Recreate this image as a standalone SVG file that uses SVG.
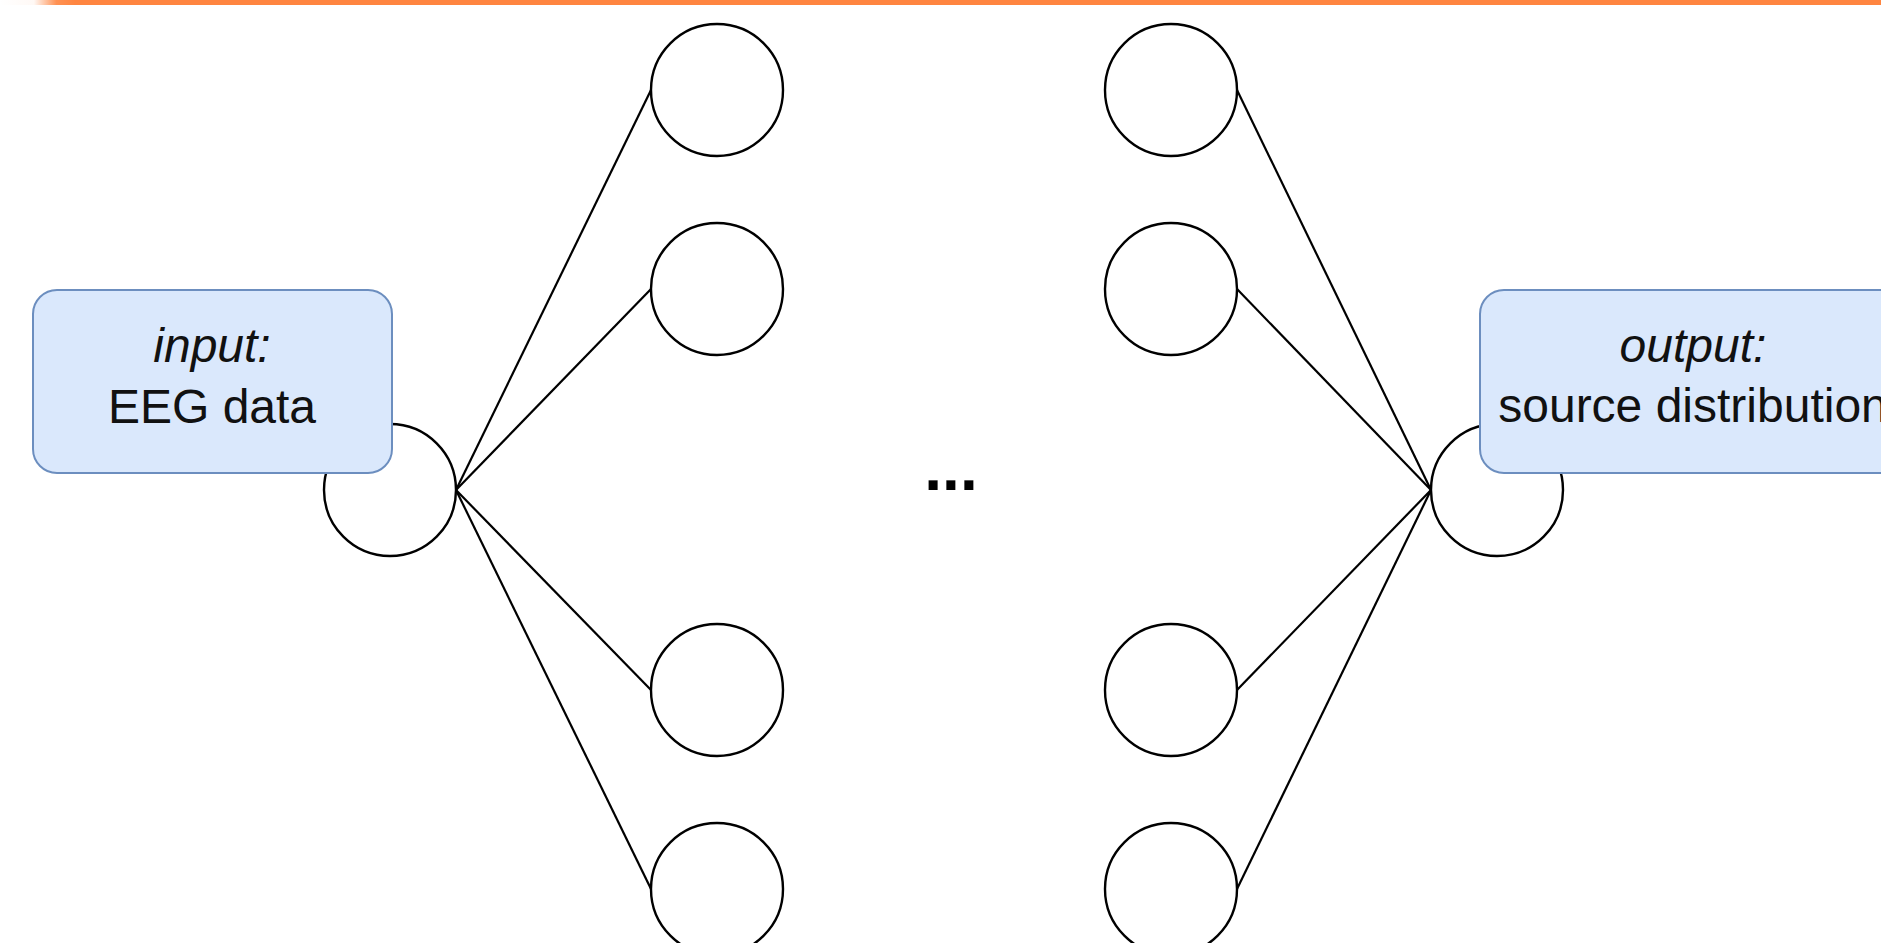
<svg xmlns="http://www.w3.org/2000/svg" width="1881" height="943" viewBox="0 0 1881 943">
<defs>
<linearGradient id="bar" x1="0" y1="0" x2="1881" y2="0" gradientUnits="userSpaceOnUse">
<stop offset="0" stop-color="#ff8540" stop-opacity="0"/>
<stop offset="0.018" stop-color="#ff8540" stop-opacity="0.05"/>
<stop offset="0.03" stop-color="#ff8540" stop-opacity="0.9"/>
<stop offset="0.04" stop-color="#ff8540" stop-opacity="1"/>
<stop offset="1" stop-color="#ff8540" stop-opacity="1"/>
</linearGradient>
<style>
.n{fill:#ffffff;stroke:#000000;stroke-width:2.4}
.box{fill:#dae8fc;stroke:#6c8ebf;stroke-width:2}
.e{stroke:#000000;stroke-width:2.2;fill:none}
.t{font-family:"Liberation Sans",Arial,sans-serif;font-size:48px;fill:#111111;text-anchor:middle}
.it{font-style:italic}
</style>
</defs>
<rect x="0" y="0" width="1881" height="943" fill="#ffffff"/>
<rect x="0" y="0" width="1881" height="5" fill="url(#bar)"/>
<g id="connectors">
<line class="e" x1="456" y1="490" x2="651" y2="90"/>
<line class="e" x1="456" y1="490" x2="651" y2="289"/>
<line class="e" x1="456" y1="490" x2="651" y2="690"/>
<line class="e" x1="456" y1="490" x2="651" y2="889"/>
<line class="e" x1="1237" y1="90" x2="1431" y2="490"/>
<line class="e" x1="1237" y1="289" x2="1431" y2="490"/>
<line class="e" x1="1237" y1="690" x2="1431" y2="490"/>
<line class="e" x1="1237" y1="889" x2="1431" y2="490"/>
</g>
<g id="in-node"><circle class="n" cx="390" cy="490" r="66"/></g>
<g id="h1a"><circle class="n" cx="717" cy="90" r="66"/></g>
<g id="h1b"><circle class="n" cx="717" cy="289" r="66"/></g>
<g id="h1c"><circle class="n" cx="717" cy="690" r="66"/></g>
<g id="h1d"><circle class="n" cx="717" cy="889" r="66"/></g>
<g id="h2a"><circle class="n" cx="1171" cy="90" r="66"/></g>
<g id="h2b"><circle class="n" cx="1171" cy="289" r="66"/></g>
<g id="h2c"><circle class="n" cx="1171" cy="690" r="66"/></g>
<g id="h2d"><circle class="n" cx="1171" cy="889" r="66"/></g>
<g id="out-node"><circle class="n" cx="1497" cy="490" r="66"/></g>
<g id="dots"><text x="951" y="490" style="font-family:'Liberation Sans',Arial,sans-serif;font-size:64px;font-weight:bold;text-anchor:middle" fill="#000">...</text></g>
<g id="input">
<rect class="box" x="33" y="290" width="359" height="183" rx="24" ry="24"/>
<text class="t it" x="212" y="362">input:</text>
<text class="t" x="212" y="423">EEG data</text>
</g>
<g id="output">
<rect class="box" x="1480" y="290" width="426" height="183" rx="24" ry="24"/>
<text class="t it" x="1693" y="362">output:</text>
<text class="t" x="1693" y="422">source distribution</text>
</g>
</svg>
